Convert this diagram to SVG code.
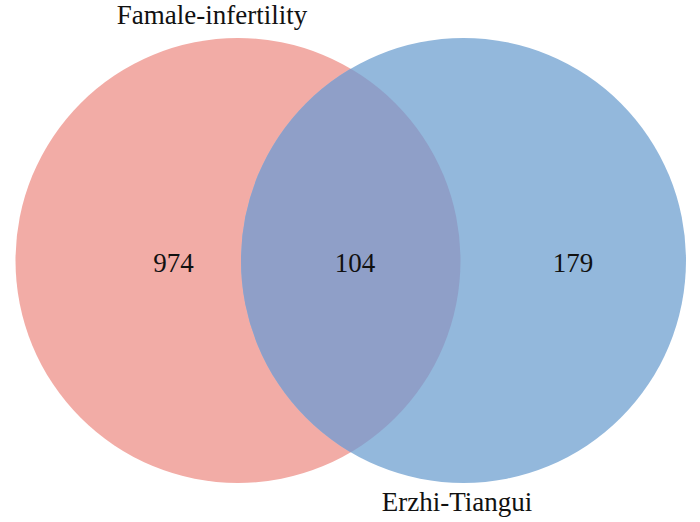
<svg xmlns="http://www.w3.org/2000/svg" width="700" height="522" viewBox="0 0 700 522">
  <style>
    .lbl { font-family: "Liberation Serif", "Times New Roman", serif; fill: #111; text-anchor: middle; font-size: 27px; }
  </style>
  <defs>
    <clipPath id="clipB">
      <circle cx="463.5" cy="260.5" r="222.5"/>
    </clipPath>
  </defs>
  <rect width="700" height="522" fill="#ffffff"/>
  <g id="set-female">
    <circle cx="238" cy="260.5" r="222.5" fill="#F2ACA6"/>
  </g>
  <g id="set-erzhi">
    <circle cx="463.5" cy="260.5" r="222.5" fill="#93B8DC"/>
  </g>
  <g id="overlap">
    <circle cx="238" cy="260.5" r="222.5" fill="#8F9FC8" clip-path="url(#clipB)"/>
  </g>
  <g id="connectors"></g>
  <g id="labels">
    <text class="lbl" x="212" y="24">Famale-infertility</text>
    <text class="lbl" x="457" y="511">Erzhi-Tiangui</text>
    <text class="lbl" x="173.5" y="272">974</text>
    <text class="lbl" x="355" y="272">104</text>
    <text class="lbl" x="573" y="272">179</text>
  </g>
</svg>
